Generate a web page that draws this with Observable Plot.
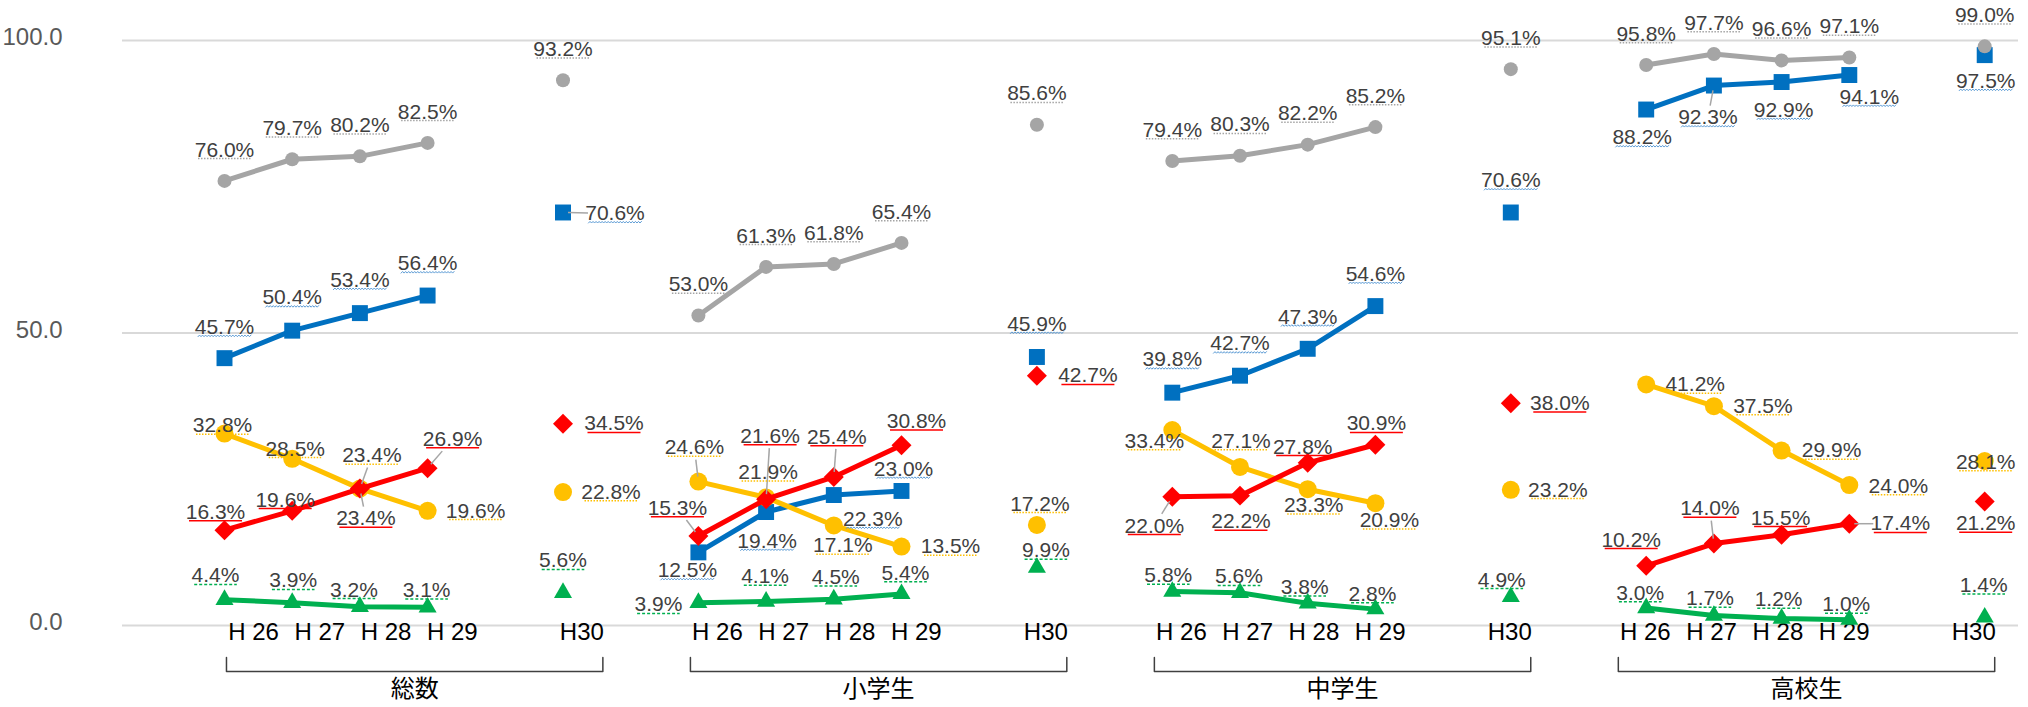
<!DOCTYPE html>
<html>
<head>
<meta charset="utf-8">
<script src="https://cdn.jsdelivr.net/npm/d3@7"></script>
<script src="https://cdn.jsdelivr.net/npm/@observablehq/plot@0.6"></script>
<style>
  body { margin: 0; background: #fff; }
</style>
</head>
<body>
<div id="chart"></div>
<script>
// ---------- data ----------
const groups = ["総数", "小学生", "中学生", "高校生"];
const years = ["H26", "H27", "H28", "H29", "H30"];
const yearTickLabels = ["H 26", "H 27", "H 28", "H 29", "H30"];
const yTicks = [0, 50, 100];

// values per group, H26..H30
const grayValues   = [76.0, 79.7, 80.2, 82.5, 93.2,  53.0, 61.3, 61.8, 65.4, 85.6,  79.4, 80.3, 82.2, 85.2, 95.1,  95.8, 97.7, 96.6, 97.1, 99.0];
const blueValues   = [45.7, 50.4, 53.4, 56.4, 70.6,  12.5, 19.4, 22.3, 23.0, 45.9,  39.8, 42.7, 47.3, 54.6, 70.6,  88.2, 92.3, 92.9, 94.1, 97.5];
const redValues    = [16.3, 19.6, 23.4, 26.9, 34.5,  15.3, 21.6, 25.4, 30.8, 42.7,  22.0, 22.2, 27.8, 30.9, 38.0,  10.2, 14.0, 15.5, 17.4, 21.2];
const yellowValues = [32.8, 28.5, 23.4, 19.6, 22.8,  24.6, 21.9, 17.1, 13.5, 17.2,  33.4, 27.1, 23.3, 20.9, 23.2,  41.2, 37.5, 29.9, 24.0, 28.1];
const greenValues  = [4.4, 3.9, 3.2, 3.1, 5.6,  3.9, 4.1, 4.5, 5.4, 9.9,  5.8, 5.6, 3.8, 2.8, 4.9,  3.0, 1.7, 1.2, 1.0, 1.4];

// ---------- label placement (pixel offsets from the marker; 3rd item = leader line) ----------
const offGray = Array.from({length: 20}, () => [0, -31]);
const offBlue = [
  [0,-31],[0,-33],[0,-33],[0,-32],[52,1,1],
  [-11,18],[1,29],[39,24],[2,-22],[0,-33],
  [0,-33],[0,-32],[0,-32],[0,-32],[0,-32],
  [-4,28],[-6,32,1],[2,28],[20,22],[1,26]
];
const offRed = [
  [-9,-18],[-7,-11],[6,30,1],[25,-29,1],[51,0],
  [-21,-28,1],[4,-63,1],[3,-40,1],[15,-24],[51,0],
  [-18,29,1],[1,26],[-5,-16],[1,-21],[49,0],
  [-15,-26],[-4,-35,1],[-1,-17],[51,0,1],[1,22]
];
const offYellow = [
  [-2,-8],[3,-10],[12,-33,1],[48,0],[48,0],
  [-4,-34,1],[2,-25],[9,20],[49,0],[3,-21],
  [-18,11],[1,-26],[6,16],[14,17],[47,0],
  [49,0],[49,0],[50,0],[49,1],[1,1]
];
const offGreen = [
  [-9,-24],[1,-22],[-6,-17],[-1,-17],[0,-32],
  [-40,2],[-1,-25],[2,-22],[4,-21],[9,-17],
  [-4,-16],[-1,-16],[-3,-16],[-3,-15],[-9,-17],
  [-6,-15],[-4,-17],[-3,-19],[-3,-15],[-1,-32]
];

// ---------- layout ----------
const W = 2028, H = 707;
const M = {top: 40, right: 10, bottom: 82, left: 122};
const SLOT_PX = 67.7, FIRST_PX = 224;
const KX = SLOT_PX;
const KY = (H - M.top - M.bottom) / 100;
const xDomain = [(M.left - FIRST_PX) / SLOT_PX, (W - M.right - FIRST_PX) / SLOT_PX];
const slotOf = (gi, yi) => gi * 7 + (yi < 4 ? yi : 5);
// category tick labels sit on a slightly narrower grid than the markers
const tickPos = (slot) => 0.428 + 0.979 * slot;

const LABEL_SIZE = 21, LABEL_SQUEEZE = 0.89;
const FONT_LABEL = "'Liberation Sans', Arial, sans-serif";
const FONT_AXIS = "'Liberation Sans', Arial, sans-serif";
const FONT_CJK = "'Noto Sans CJK JP', 'Noto Sans', sans-serif";

const series = [
  {key: "blue",   values: blueValues,   color: "#0070C0", symbol: "square",   r: 9,   offs: offBlue,   ul: {stroke: "#5B9BD5", wavy: true}},
  {key: "gray",   values: grayValues,   color: "#A5A5A5", symbol: "circle",   r: 7,   offs: offGray,   ul: {stroke: "#A5A5A5", dash: "1.5,1.5"}},
  {key: "yellow", values: yellowValues, color: "#FFC000", symbol: "circle",   r: 9,   offs: offYellow, ul: {stroke: "#FFC000", dash: "1.5,1.5"}},
  {key: "red",    values: redValues,    color: "#FF0000", symbol: "diamond2", r: 9,   offs: offRed,    ul: {stroke: "#FF0000", dash: null}},
  {key: "green",  values: greenValues,  color: "#00B050", symbol: "triangle", r: 6.7, offs: offGreen,  ul: {stroke: "#00B050", dash: "3,2"}}
];

const ctx = document.createElement("canvas").getContext("2d");
ctx.font = `${LABEL_SIZE}px ${FONT_LABEL}`;

const rows = [];
for (const s of series) {
  groups.forEach((g, gi) => {
    years.forEach((yr, yi) => {
      const k = gi * 5 + yi;
      const v = s.values[k];
      const [dx, dy, lead] = s.offs[k];
      const pos = slotOf(gi, yi);
      const text = v.toFixed(1) + "%";
      const wpx = ctx.measureText(text).width * LABEL_SQUEEZE;
      rows.push({series: s.key, id: s.key + k, group: g, gi, yi, year: yr, pos, value: v, text,
        lx: pos + dx / KX, ly: v - dy / KY, dx, dy, lead: !!lead, wpx});
    });
  });
}

function leaderOf(d) {
  const len = Math.hypot(d.dx, d.dy);
  const s = Math.min(27 / Math.max(Math.abs(d.dx), 1e-6), 12 / Math.max(Math.abs(d.dy), 1e-6));
  const e = 1 - s, st = 5 / len;
  return {x1: d.pos + d.dx * st / KX, y1: d.value - d.dy * st / KY,
          x2: d.pos + d.dx * e / KX,  y2: d.value - d.dy * e / KY};
}
const leaders = rows.filter(d => d.lead).map(leaderOf);

// underline segments beneath each label
const UL_BELOW = 0.32 * LABEL_SIZE + 2;
const underline = (d) => ({id: d.id, x1: d.lx - d.wpx / 2 / KX, x2: d.lx + d.wpx / 2 / KX, y: d.ly - UL_BELOW / KY});
function wavyPoints(d) {
  const u = underline(d), pts = [];
  const n = Math.round(d.wpx / 1.5);
  for (let i = 0; i <= n; i++) {
    pts.push({id: d.id, x: u.x1 + (u.x2 - u.x1) * i / n, y: u.y + (i % 2 ? 0.8 : -0.8) / KY});
  }
  return pts;
}

const tickRows = [];
groups.forEach((g, gi) => yearTickLabels.forEach((t, yi) => {
  const slot = slotOf(gi, yi);
  tickRows.push({label: t, tx: tickPos(slot) + (yi === 4 ? -3 / KX : 0)});
}));

const BR_TOP = -32 / KY, BR_BOT = -46 / KY;
const bracketPts = [];
const groupRows = [];
groups.forEach((g, gi) => {
  const l = tickPos(slotOf(gi, 0)) - 27 / KX;
  const r = tickPos(slotOf(gi, 4)) + 18 / KX;
  bracketPts.push({g, x: l, y: BR_TOP}, {g, x: l, y: BR_BOT}, {g, x: r, y: BR_BOT}, {g, x: r, y: BR_TOP});
  groupRows.push({name: g, cx: (l + r) / 2});
});

const marks = [
  Plot.ruleY(yTicks, {stroke: "#D9D9D9", strokeWidth: 2}),
  Plot.text(yTicks, {frameAnchor: "left", y: d => d, text: d => d.toFixed(1), textAnchor: "end",
    dx: -60, dy: -3, fill: "#595959", fontSize: 24, fontFamily: FONT_AXIS}),
  Plot.text(tickRows, {frameAnchor: "bottom", x: "tx", text: "label", dy: 14, fill: "#000",
    fontSize: 24, fontFamily: FONT_AXIS}),
  Plot.line(bracketPts, {x: "x", y: "y", z: "g", stroke: "#404040", strokeWidth: 1.5, strokeLinejoin: "round"}),
  Plot.text(groupRows, {frameAnchor: "bottom", x: "cx", text: "name", dy: 71, fill: "#000",
    fontSize: 24, fontFamily: FONT_CJK})
];
for (const s of series) {
  const sr = rows.filter(d => d.series === s.key);
  marks.push(Plot.line(sr.filter(d => d.yi < 4), {x: "pos", y: "value", z: "group", stroke: s.color,
    strokeWidth: 5, strokeLinejoin: "round"}));
  marks.push(Plot.dot(sr, {x: "pos", y: "value", symbol: s.symbol, r: s.r, fill: s.color}));
}
marks.push(Plot.link(leaders, {x1: "x1", y1: "y1", x2: "x2", y2: "y2", stroke: "#A6A6A6", strokeWidth: 1.5}));
for (const s of series) {
  const sr = rows.filter(d => d.series === s.key);
  if (s.ul.wavy) {
    marks.push(Plot.line(sr.flatMap(wavyPoints), {x: "x", y: "y", z: "id", stroke: s.ul.stroke, strokeWidth: 1}));
  } else {
    marks.push(Plot.link(sr.map(underline), {x1: "x1", x2: "x2", y1: "y", y2: "y", stroke: s.ul.stroke,
      strokeWidth: 1.5, strokeDasharray: s.ul.dash || undefined}));
  }
  marks.push(Plot.text(sr, {x: "lx", y: "ly", text: "text", fill: "#404040",
    fontSize: LABEL_SIZE, fontFamily: FONT_LABEL, ariaLabel: "lab-" + s.key}));
}

const chart = Plot.plot({
  width: W, height: H,
  marginTop: M.top, marginRight: M.right, marginBottom: M.bottom, marginLeft: M.left,
  style: {background: "#fff", overflow: "visible"},
  x: {type: "linear", domain: xDomain, axis: null},
  y: {type: "linear", domain: [0, 100], axis: null},
  marks
});

// squeeze the data labels horizontally (narrow label face)
d3.select(chart).selectAll('g[aria-label^="lab-"] text').each(function () {
  const t = this.getAttribute("transform");
  if (t) {
    this.setAttribute("transform", `${t} scale(${LABEL_SQUEEZE},1)`);
  } else {
    const x = +this.getAttribute("x") || 0, y = +this.getAttribute("y") || 0;
    this.setAttribute("x", 0); this.setAttribute("y", 0);
    this.setAttribute("transform", `translate(${x},${y}) scale(${LABEL_SQUEEZE},1)`);
  }
});

document.getElementById("chart").appendChild(chart);
</script>
</body>
</html>
